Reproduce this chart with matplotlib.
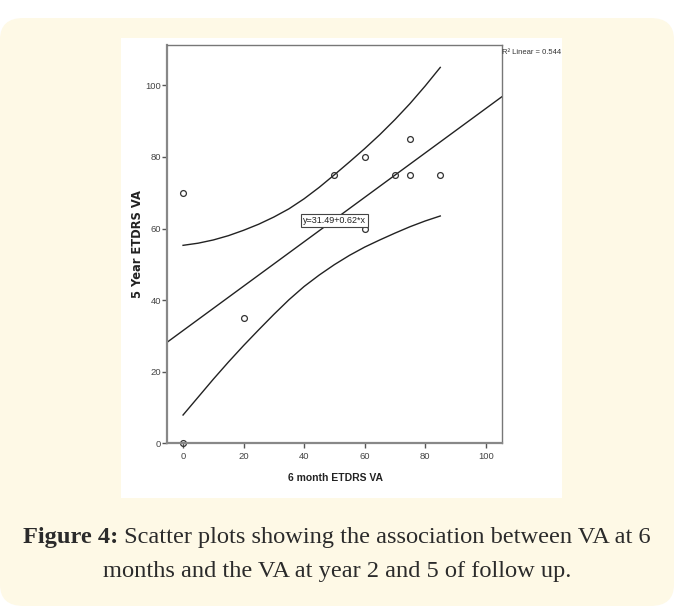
import matplotlib.pyplot as plt
from matplotlib.patches import FancyBboxPatch, Rectangle

# Values
month6_va = [0, 0, 20, 50, 60, 60, 70, 75, 75, 85]
year5_va = [70, 0, 35, 75, 80, 60, 75, 85, 75, 75]

# linear fit shown on the chart
fit_intercept = 31.49
fit_slope = 0.62
r2_linear = 0.544

# 95% confidence band of the fit, read every 5 units along x
band_x = [0, 5, 10, 15, 20, 25, 30, 35, 40, 45, 50, 55, 60, 65, 70, 75, 80, 85]
band_upper = [55.3, 55.9, 56.8, 58.0, 59.5, 61.2, 63.2, 65.5, 68.3, 71.5, 75.0,
              78.6, 82.3, 86.2, 90.4, 94.9, 99.8, 105.0]
band_lower = [7.9, 12.9, 17.9, 22.7, 27.3, 31.7, 36.0, 40.1, 43.8, 47.0, 49.9,
              52.5, 54.8, 56.8, 58.7, 60.5, 62.1, 63.5]

x_ticks = [0, 20, 40, 60, 80, 100]
y_ticks = [0, 20, 40, 60, 80, 100]

plt.rcParams['font.family'] = ['Liberation Sans Narrow', 'Liberation Sans', 'DejaVu Sans']

W, H = 674, 611
fig = plt.figure(figsize=(W / 100, H / 100), dpi=100)
fig.patch.set_facecolor('white')

# yellow card and white picture area behind the chart
card = FancyBboxPatch((0, 5 / H), 1.0, (593 - 5) / H, boxstyle='round,pad=0,rounding_size=0.035',
                      transform=fig.transFigure, fc='#fef9e6', ec='none', zorder=-2)
fig.add_artist(card)
panel = Rectangle((121 / W, (H - 498) / H), (562 - 121) / W, (498 - 38) / H,
                  transform=fig.transFigure, fc='white', ec='none', zorder=-1)
fig.add_artist(panel)

ax = fig.add_axes([167 / W, (H - 443.3) / H, (501.7 - 167) / W, (443.3 - 44.5) / H])
ax.set_xlim(-5.3, 105.3)
ax.set_ylim(0, 111.4)

# fit line across the whole plot
x0, x1 = ax.get_xlim()
ax.plot([x0, x1], [fit_intercept + fit_slope * x0, fit_intercept + fit_slope * x1],
        color='#222222', lw=1.0)
ax.plot(band_x, band_upper, color='#222222', lw=1.0)
ax.plot(band_x, band_lower, color='#222222', lw=1.0)

ax.plot(month6_va, year5_va, 'o', ms=4.2, mfc='none', mec='#333333', mew=0.9, clip_on=False)

ax.text(50, 62.3, f'y={fit_intercept}+{fit_slope}*x', ha='center', va='center', fontsize=6.5,
        color='#222222',
        bbox=dict(boxstyle='square,pad=0.25', fc='white', ec='#444444', lw=0.8))

for side in ['top', 'right']:
    ax.spines[side].set_color('#777777')
    ax.spines[side].set_linewidth(1.0)
for side in ['left', 'bottom']:
    ax.spines[side].set_color('#888888')
    ax.spines[side].set_linewidth(1.6)

ax.set_xticks(x_ticks)
ax.set_yticks(y_ticks)
ax.tick_params(direction='out', length=3.3, width=1, color='#555555', labelsize=6.8,
               labelcolor='#444444', pad=1)
ax.tick_params(axis='x', pad=3)

# axis titles
fig.text(335 / W, (H - 478) / H, '6 month ETDRS VA', fontsize=7.5, fontweight='bold',
         color='#222222', family='Liberation Sans', ha='center', va='center')
fig.text(137.7 / W, (H - 244) / H, '5 Year ETDRS VA', fontsize=8.3, fontweight='bold',
         color='#222222', family='DejaVu Sans', ha='center', va='center', rotation=90)

fig.text(502 / W, (H - 52) / H, f'R² Linear = {r2_linear}', fontsize=5.5, color='#333333',
         ha='left', va='center')

# caption: bold "Figure 4:" then the rest in regular
cap_font = ['Liberation Serif', 'DejaVu Serif']
cap_size = 17.6
cap_color = '#2b2b2b'
line1_y = (H - 537) / H
line2_y = (H - 571) / H
bold_part = fig.text(0, line1_y, 'Figure 4:', fontsize=cap_size, fontweight='bold',
                     family=cap_font, color=cap_color, va='center')
rest_part = fig.text(0, line1_y, ' Scatter plots showing the association between VA at 6',
                     fontsize=cap_size, family=cap_font, color=cap_color, va='center')
fig.canvas.draw()
r = fig.canvas.get_renderer()
w_bold = bold_part.get_window_extent(r).width / W
w_rest = rest_part.get_window_extent(r).width / W
start = 0.5 - (w_bold + w_rest) / 2
bold_part.set_x(start)
rest_part.set_x(start + w_bold)
fig.text(0.5, line2_y, 'months and the VA at year 2 and 5 of follow up.', fontsize=cap_size,
         family=cap_font, color=cap_color, ha='center', va='center')

fig.savefig('out.png', dpi=100)
